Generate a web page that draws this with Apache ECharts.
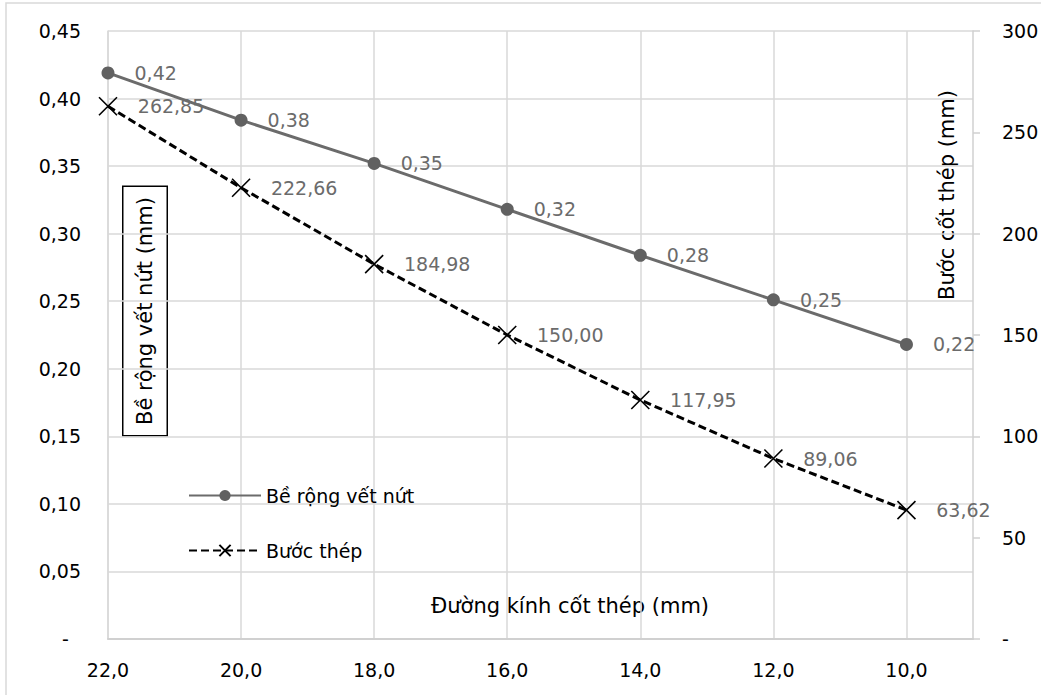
<!DOCTYPE html>
<html>
<head>
<meta charset="utf-8">
<script src="https://cdn.jsdelivr.net/npm/echarts@6/dist/echarts.min.js"></script>
<style>
html,body{margin:0;padding:0;background:#fff;}
#chart{width:1041px;height:695px;}
</style>
</head>
<body>
<div id="chart"></div>
<script>
// ---- data ----
const diameters = [22, 20, 18, 16, 14, 12, 10];
const crackWidth = [0.419, 0.384, 0.352, 0.318, 0.284, 0.251, 0.218];
const barSpacing = [262.85, 222.66, 184.98, 150.00, 117.95, 89.06, 63.62];
const seriesNames = ['Bề rộng vết nứt', 'Bước thép'];
const xTitle = 'Đường kính cốt thép (mm)';
const yLeftTitle = 'Bề rộng vết nứt (mm)';
const yRightTitle = 'Bước cốt thép (mm)';

const FONT = 'DejaVu Sans';
const comma = (s) => s.replace('.', ',');

const chart = echarts.init(document.getElementById('chart'), null, {renderer: 'svg'});

const option = {
  backgroundColor: '#ffffff',
  animation: false,
  grid: {left: 108, right: 68, top: 31, bottom: 56, containLabel: false, outerBoundsMode: 'none'},
  legend: {
    orient: 'vertical',
    left: 183,
    top: 481,
    itemWidth: 72,
    itemHeight: 14,
    itemGap: 36,
    textStyle: {fontFamily: FONT, fontSize: 19, color: '#000'},
    data: seriesNames
  },
  xAxis: {
    type: 'value',
    inverse: true,
    min: 9,
    max: 22,
    interval: 1,
    axisLine: {show: true, lineStyle: {color: '#d0d0d0', width: 2}},
    axisTick: {show: false},
    splitLine: {show: true, lineStyle: {color: ['rgba(0,0,0,0)', '#d9d9d9'], width: 1.5}},
    axisLabel: {
      margin: 21,
      fontFamily: FONT, fontSize: 19, color: '#000',
      formatter: (v) => (v % 2 === 0 ? comma(v.toFixed(1)) : '')
    }
  },
  yAxis: [
    {
      type: 'value',
      min: 0, max: 0.45, interval: 0.05,
      position: 'left',
      axisLine: {show: true, lineStyle: {color: '#d9d9d9', width: 1.5}},
      axisTick: {show: false},
      splitLine: {show: true, lineStyle: {color: '#d9d9d9', width: 1.5}},
      axisLabel: {
        margin: 27,
        fontFamily: FONT, fontSize: 19, color: '#000',
        formatter: (v) => (v === 0 ? '-  ' : comma(v.toFixed(2)))
      }
    },
    {
      type: 'value',
      min: 0, max: 300, interval: 50,
      position: 'right',
      axisLine: {show: true, lineStyle: {color: '#d0d0d0', width: 1.5}},
      axisTick: {show: true, inside: false, length: 7, lineStyle: {color: '#d0d0d0', width: 1.5}},
      splitLine: {show: false},
      axisLabel: {
        margin: 29,
        fontFamily: FONT, fontSize: 19, color: '#000',
        formatter: (v) => (v === 0 ? '-' : String(v))
      }
    }
  ],
  graphic: [
    {
      type: 'rect', z: -10, silent: true,
      shape: {x: 6, y: 3, width: 1200, height: 1000},
      style: {fill: 'none', stroke: '#d9d9d9', lineWidth: 1.5}
    },
    {
      type: 'text', x: 570, y: 606,
      style: {text: xTitle, fontFamily: FONT, fontSize: 21, fill: '#000', align: 'center', verticalAlign: 'middle'}
    },
    {
      type: 'text', x: 947, y: 195, rotation: Math.PI / 2,
      style: {text: yRightTitle, fontFamily: FONT, fontSize: 21, fill: '#000', align: 'center', verticalAlign: 'middle'}
    },
    {
      type: 'text', x: 145, y: 311, rotation: Math.PI / 2,
      style: {
        text: yLeftTitle, fontFamily: FONT, fontSize: 21, fill: '#000',
        align: 'center', verticalAlign: 'middle',
        backgroundColor: '#fff', borderColor: '#000', borderWidth: 1.5,
        padding: [11, 10]
      }
    }
  ],
  series: [
    {
      name: seriesNames[0],
      type: 'line',
      yAxisIndex: 0,
      data: diameters.map((d, i) => [d, crackWidth[i]]),
      symbol: 'circle',
      symbolSize: 13,
      lineStyle: {color: '#6b6b6b', width: 3},
      itemStyle: {color: '#616161'},
      label: {
        show: true, position: 'right', distance: 20,
        fontFamily: FONT, fontSize: 19, color: '#6b6b6b',
        formatter: (p) => comma(p.value[1].toFixed(2))
      },
      z: 3
    },
    {
      name: seriesNames[1],
      type: 'line',
      yAxisIndex: 1,
      data: diameters.map((d, i) => [d, barSpacing[i]]),
      symbol: 'path://M0,0L10,10M10,0L0,10',
      symbolSize: 18,
      lineStyle: {color: '#000', width: 3, type: [8, 4]},
      itemStyle: {color: '#000', borderColor: '#000', borderWidth: 1.6},
      label: {
        show: true, position: 'right', distance: 20,
        fontFamily: FONT, fontSize: 19, color: '#6b6b6b',
        formatter: (p) => comma(p.value[1].toFixed(2))
      },
      z: 2
    }
  ]
};
chart.setOption(option);
</script>
</body>
</html>
